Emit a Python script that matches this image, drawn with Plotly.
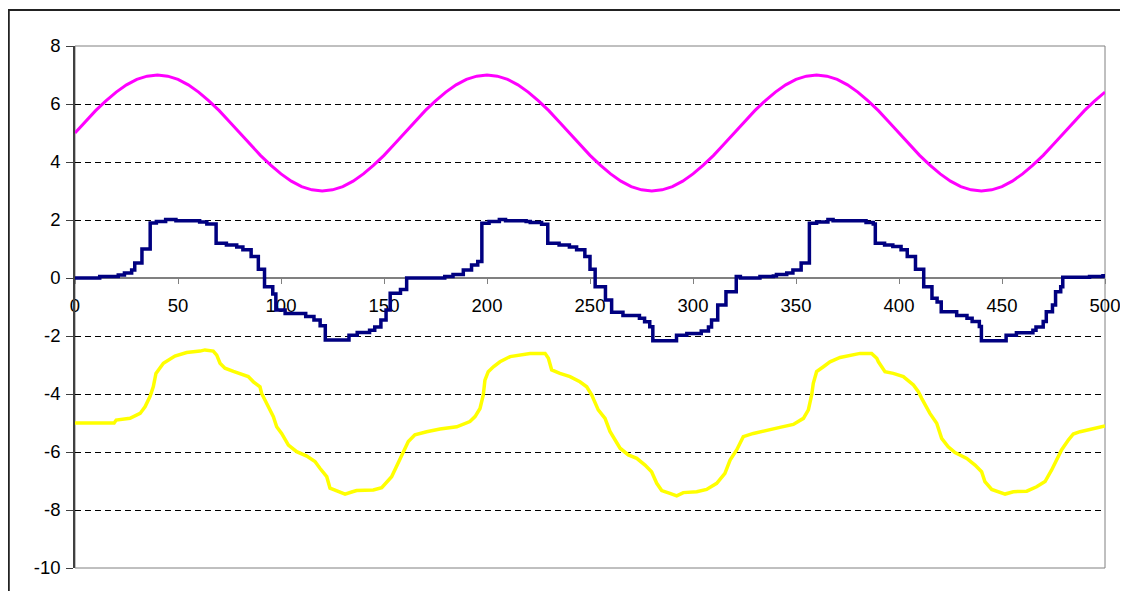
import plotly.graph_objects as go

# ---- data ----
pink_x = list(range(0, 501, 5))
pink_y = [5.00, 5.39, 5.77, 6.11, 6.41, 6.66, 6.85, 6.96, 7.00, 6.96, 6.85, 6.66, 6.41, 6.11, 5.77, 5.39,
          5.00, 4.61, 4.23, 3.89, 3.59, 3.34, 3.15, 3.04, 3.00, 3.04, 3.15, 3.34, 3.59, 3.89, 4.23, 4.61,
          5.00, 5.39, 5.77, 6.11, 6.41, 6.66, 6.85, 6.96, 7.00, 6.96, 6.85, 6.66, 6.41, 6.11, 5.77, 5.39,
          5.00, 4.61, 4.23, 3.89, 3.59, 3.34, 3.15, 3.04, 3.00, 3.04, 3.15, 3.34, 3.59, 3.89, 4.23, 4.61,
          5.00, 5.39, 5.77, 6.11, 6.41, 6.66, 6.85, 6.96, 7.00, 6.96, 6.85, 6.66, 6.41, 6.11, 5.77, 5.39,
          5.00, 4.61, 4.23, 3.89, 3.59, 3.34, 3.15, 3.04, 3.00, 3.04, 3.15, 3.34, 3.59, 3.89, 4.23, 4.61,
          5.00, 5.39, 5.77, 6.11, 6.41]

blue_x = [0, 12, 21, 24, 27.5, 29, 32.5, 36.5, 39.5, 44, 49, 60.5, 64, 68.5, 73.5, 78.5, 81.5, 85.5, 89, 92,
          96, 97.5, 102, 112, 116, 119, 121.5, 133, 137, 143, 145.5, 148.5, 151, 153, 158, 161,
          179.5, 183.5, 188.5, 192.5, 195.5, 197.5, 201, 206, 209, 219, 221, 226.5, 229.5, 235, 240, 243.5,
          247.5, 250, 252.5, 257.5, 260.5, 266, 274, 276.5, 279, 280.5, 292, 297, 304, 307.5, 309, 312, 316,
          321, 323,
          332.5, 339, 340.5, 345.5, 348.5, 352.5, 356.5, 360, 365.5, 368, 384, 387.5, 388.5, 393, 397, 401,
          404, 408, 412, 416, 418.5, 420.5, 428, 433, 435.5, 439, 440, 452, 457, 465, 466.5, 470, 471.5,
          474.5, 476, 478.5, 479.5, 492.5, 499, 500]
blue_y = [0.0, 0.05, 0.10, 0.17, 0.28, 0.52, 1.0, 1.90, 1.95, 2.02, 1.97, 1.93, 1.86, 1.20, 1.14, 1.07, 0.97,
          0.74, 0.30, -0.30, -0.55, -1.10, -1.22, -1.33, -1.45, -1.65, -2.14, -1.97, -1.88, -1.80, -1.69,
          -1.45, -1.10, -0.53, -0.40, 0.0,
          0.05, 0.12, 0.28, 0.45, 0.57, 1.89, 1.95, 2.02, 1.97, 1.95, 1.91, 1.85, 1.20, 1.14, 1.07, 0.97,
          0.74, 0.30, -0.30, -0.76, -1.18, -1.29, -1.39, -1.51, -1.68, -2.16, -1.97, -1.91, -1.83, -1.69,
          -1.45, -0.93, -0.47, 0.05, 0.0,
          0.05, 0.07, 0.12, 0.17, 0.28, 0.52, 1.89, 1.93, 2.02, 1.97, 1.91, 1.86, 1.20, 1.14, 1.09, 0.97,
          0.74, 0.30, -0.30, -0.70, -0.83, -1.16, -1.29, -1.39, -1.50, -1.67, -2.16, -1.97, -1.89, -1.80,
          -1.69, -1.50, -1.16, -0.93, -0.47, -0.30, 0.03, 0.05, 0.08, 0.08]

yellow_x = [0, 19, 20, 26.7, 31.6, 34, 36.4, 38, 39.3, 40.4, 42.9, 48.5, 54.2, 60.7, 63.1, 67.1, 68.8, 70.4,
            72.8, 76.9, 80.1, 84.1, 86.6, 89.8, 90.6, 93.8, 96.3, 97.9, 100.3, 103.6, 107.6, 112.5, 116.5,
            118.9, 122.2, 123.8, 127.8, 131.1, 134.3, 136.7, 144.8, 148.9, 153.7, 156.9, 160.2, 161.8, 165,
            170.7, 177.2, 185.3, 191.7, 194.2, 196.6, 198.2, 199, 200.6, 203.1, 206.3, 211.2, 216, 220.9,
            228.2, 229.8, 231.4, 235.4, 240.3, 245.1, 248.4, 250.8, 254, 257.3, 259.7, 262.1, 264.6, 268.6,
            272.7, 276.7, 279.9, 282.4, 284.8, 288.8, 292.1, 295.3, 301.8, 306.6, 311.5, 315.5, 318, 321.2,
            324.4, 329.3, 335.8, 342.2, 348.7, 353.6, 356, 357.6, 358.4, 360, 363.3, 366.5, 371.4, 376.2,
            381.1, 386.7, 389.2, 390, 393.2, 397.2, 402.1, 407, 409.4, 411, 415, 418.3, 420.7, 423.9, 427.2,
            432.9, 436.9, 440.1, 441.7, 445, 449, 451.5, 455.5, 462, 466.8, 470.9, 474.1, 476.5, 478.9,
            482.2, 484.6, 487.9, 492.7, 500]
yellow_y = [-5, -5, -4.9, -4.84, -4.67, -4.44, -4.09, -3.75, -3.29, -3.17, -2.94, -2.69, -2.57, -2.52, -2.48,
            -2.52, -2.66, -2.94, -3.11, -3.22, -3.29, -3.4, -3.58, -3.75, -3.98, -4.44, -4.78, -5.13, -5.36,
            -5.76, -5.99, -6.14, -6.33, -6.56, -6.85, -7.25, -7.37, -7.45, -7.38, -7.33, -7.31, -7.23, -6.85,
            -6.39, -5.93, -5.64, -5.41, -5.3, -5.21, -5.13, -4.95, -4.78, -4.5, -4.03, -3.52, -3.23, -3.06,
            -2.89, -2.71, -2.66, -2.6, -2.6, -2.77, -3.17, -3.29, -3.4, -3.58, -3.75, -4.03, -4.55, -4.84,
            -5.29, -5.59, -5.87, -6.1, -6.22, -6.45, -6.68, -7.08, -7.33, -7.43, -7.51, -7.4, -7.37, -7.29,
            -7.08, -6.74, -6.28, -5.93, -5.47, -5.36, -5.24, -5.15, -5.05, -4.84, -4.55, -4.03, -3.63, -3.23,
            -3.06, -2.89, -2.74, -2.66, -2.6, -2.6, -2.77, -2.89, -3.23, -3.29, -3.4, -3.69, -3.92, -4.15,
            -4.67, -5.01, -5.53, -5.82, -6.02, -6.22, -6.45, -6.68, -7.02, -7.29, -7.4, -7.45, -7.37, -7.35,
            -7.2, -7.02, -6.62, -6.28, -5.93, -5.59, -5.38, -5.3, -5.22, -5.1]

x_ticks = [0, 50, 100, 150, 200, 250, 300, 350, 400, 450, 500]
y_ticks = [8, 6, 4, 2, 0, -2, -4, -6, -8, -10]

assert len(pink_x) == len(pink_y)
assert len(blue_x) == len(blue_y)
assert len(yellow_x) == len(yellow_y)

FONT = "Liberation Sans, Arial, sans-serif"
FS = 18.5

fig = go.Figure()
fig.add_trace(go.Scatter(x=pink_x, y=pink_y, mode="lines",
                         line=dict(color="#FF00FF", width=3), showlegend=False))
fig.add_trace(go.Scatter(x=blue_x, y=blue_y, mode="lines", line_shape="hv",
                         line=dict(color="#000080", width=3.5), showlegend=False))
fig.add_trace(go.Scatter(x=yellow_x, y=yellow_y, mode="lines",
                         line=dict(color="#FFFF00", width=3.5), showlegend=False))

fig.update_layout(
    width=1112, height=583,
    margin=dict(l=67, r=15, t=38, b=23, pad=0, autoexpand=False),
    paper_bgcolor="white", plot_bgcolor="white",
    font=dict(family=FONT, size=FS, color="black"),
    xaxis=dict(range=[0, 500], tickvals=x_ticks, ticktext=[str(v) for v in x_ticks],
               showgrid=False, zeroline=False, automargin=False,
               anchor="free", position=10 / 18,
               showline=True, linecolor="#808080", linewidth=2,
               ticks="outside", ticklen=5, tickcolor="#808080", tickwidth=1,
               ticklabelstandoff=6, ticklabeloverflow="allow", layer="below traces",
               tickfont=dict(family=FONT, size=FS, color="black")),
    yaxis=dict(range=[-10, 8], tickvals=y_ticks, ticktext=[str(v) for v in y_ticks],
               showgrid=True, gridcolor="#000000", gridwidth=1, griddash="6px,4px",
               zeroline=False, automargin=False,
               showline=True, linecolor="#404040", linewidth=1.5,
               ticks="outside", ticklen=7, tickcolor="#404040", tickwidth=1,
               ticklabelstandoff=2,
               tickfont=dict(family=FONT, size=FS, color="black")),
    shapes=[
        dict(type="rect", xref="paper", yref="paper", x0=0, x1=1, y0=0, y1=1,
             line=dict(color="#808080", width=1), layer="below"),
        dict(type="rect", xref="paper", yref="paper", x0=-0.0643, x1=1.05, y0=-0.1, y1=1.069,
             line=dict(color="#222222", width=2), layer="above"),
    ],
)

fig.write_html("out.html")
